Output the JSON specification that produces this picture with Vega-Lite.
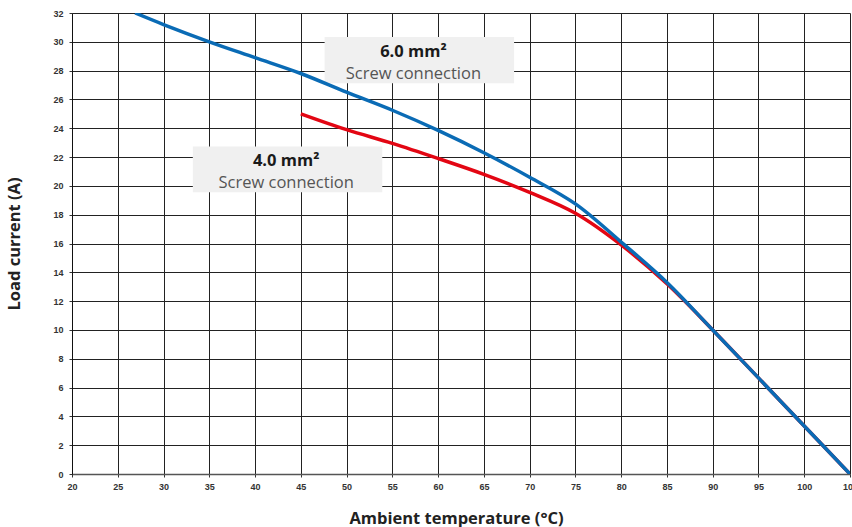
{
  "$schema": "https://vega.github.io/schema/vega-lite/v6.json",
  "width": 778,
  "height": 461,
  "autosize": {"type": "none"},
  "padding": {"left": 72, "top": 13, "right": 2, "bottom": 53},
  "background": "white",
  "config": {
    "view": {"stroke": null},
    "axis": {
      "labelFont": "Liberation Sans",
      "labelFontWeight": "bold",
      "labelFontSize": 9,
      "labelColor": "#333333",
      "labelOverlap": false,
      "labelFlush": false,
      "gridColor": "#222222",
      "gridOpacity": 1,
      "gridWidth": 1,
      "tickColor": "#333333",
      "tickSize": 3,
      "domainColor": "#333333",
      "titleFont": "Open Sans",
      "titleFontWeight": "bold",
      "titleFontSize": 16.5,
      "titleColor": "#222222"
    }
  },
  "datasets": {
    "curves": [
      {"series": "6.0", "x": 26.9, "y": 32},
      {"series": "6.0", "x": 30, "y": 31.2},
      {"series": "6.0", "x": 35, "y": 30.0},
      {"series": "6.0", "x": 40, "y": 28.9},
      {"series": "6.0", "x": 45, "y": 27.8},
      {"series": "6.0", "x": 50, "y": 26.5},
      {"series": "6.0", "x": 55, "y": 25.25},
      {"series": "6.0", "x": 60, "y": 23.85},
      {"series": "6.0", "x": 65, "y": 22.3},
      {"series": "6.0", "x": 70, "y": 20.6},
      {"series": "6.0", "x": 75, "y": 18.75},
      {"series": "6.0", "x": 80, "y": 16.1},
      {"series": "6.0", "x": 85, "y": 13.3},
      {"series": "6.0", "x": 90, "y": 10.0},
      {"series": "6.0", "x": 95, "y": 6.67},
      {"series": "6.0", "x": 100, "y": 3.33},
      {"series": "6.0", "x": 105, "y": 0},
      {"series": "4.0", "x": 45, "y": 25.0},
      {"series": "4.0", "x": 50, "y": 23.9},
      {"series": "4.0", "x": 55, "y": 22.95},
      {"series": "4.0", "x": 60, "y": 21.9},
      {"series": "4.0", "x": 65, "y": 20.8},
      {"series": "4.0", "x": 70, "y": 19.55},
      {"series": "4.0", "x": 75, "y": 18.1},
      {"series": "4.0", "x": 80, "y": 15.9},
      {"series": "4.0", "x": 85, "y": 13.2},
      {"series": "4.0", "x": 90, "y": 10.0},
      {"series": "4.0", "x": 95, "y": 6.67},
      {"series": "4.0", "x": 100, "y": 3.33},
      {"series": "4.0", "x": 105, "y": 0}
    ],
    "boxes": [
      {"x": 47.6, "x2": 68.3, "y": 30.33, "y2": 27.13},
      {"x": 33.2, "x2": 53.9, "y": 22.73, "y2": 19.56}
    ],
    "labels": [
      {"x": 57.3, "y": 28.98, "text": "6.0 mm²", "kind": "head"},
      {"x": 57.3, "y": 27.4, "text": "Screw connection", "kind": "sub"},
      {"x": 43.4, "y": 21.39, "text": "4.0 mm²", "kind": "head"},
      {"x": 43.4, "y": 19.84, "text": "Screw connection", "kind": "sub"}
    ]
  },
  "encoding": {
    "x": {
      "field": "x", "type": "quantitative",
      "scale": {"domain": [20, 105], "nice": false, "zero": false},
      "axis": {"values": [20,25,30,35,40,45,50,55,60,65,70,75,80,85,90,95,100,105], "grid": true, "title": "Ambient temperature (°C)", "titlePadding": 19, "titleX": 384, "labelPadding": 5, "domain": true, "domainColor": "#555555", "domainWidth": 1.5}
    },
    "y": {
      "field": "y", "type": "quantitative",
      "scale": {"domain": [0, 32], "nice": false},
      "axis": {"values": [0,2,4,6,8,10,12,14,16,18,20,22,24,26,28,30,32], "grid": true, "title": "Load current (A)", "titlePadding": 30, "labelPadding": 6, "domain": true, "domainColor": "#111111"}
    }
  },
  "layer": [
    {
      "data": {"name": "boxes"},
      "mark": {"type": "rect", "fill": "#f0f0f0"},
      "encoding": {
        "x2": {"field": "x2"},
        "y2": {"field": "y2"}
      }
    },
    {
      "data": {"name": "curves"},
      "transform": [{"filter": "datum.series === '4.0'"}],
      "mark": {"type": "line", "interpolate": "catmull-rom", "strokeWidth": 3.5, "clip": true, "color": "#e30613"},
      "encoding": {}
    },
    {
      "data": {"name": "curves"},
      "transform": [{"filter": "datum.series === '6.0'"}],
      "mark": {"type": "line", "interpolate": "catmull-rom", "strokeWidth": 3.5, "clip": true, "color": "#0a6bb5"},
      "encoding": {}
    },
    {
      "data": {"name": "labels"},
      "transform": [{"filter": "datum.kind === 'head'"}],
      "mark": {"type": "text", "font": "Open Sans", "fontWeight": "bold", "fontSize": 16.5, "color": "#1a1a1a", "align": "center", "baseline": "alphabetic"},
      "encoding": {
        "text": {"field": "text"}
      }
    },
    {
      "data": {"name": "labels"},
      "transform": [{"filter": "datum.kind === 'sub'"}],
      "mark": {"type": "text", "font": "Open Sans", "fontSize": 16.5, "color": "#555555", "align": "center", "baseline": "alphabetic"},
      "encoding": {
        "text": {"field": "text"}
      }
    }
  ]
}
